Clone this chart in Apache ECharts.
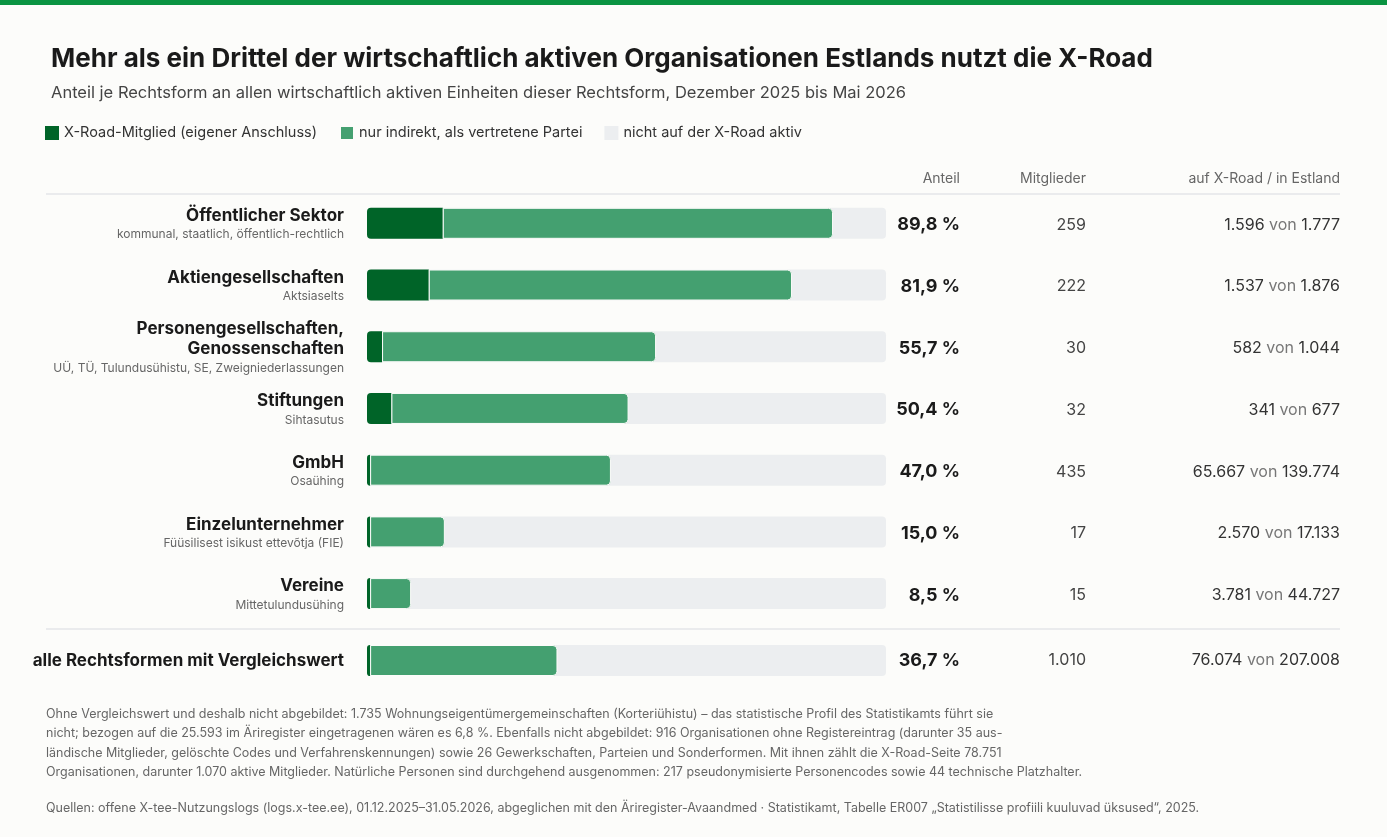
<!DOCTYPE html>
<html>
<head>
<meta charset="utf-8">
<script src="https://cdn.jsdelivr.net/npm/echarts@6/dist/echarts.min.js"></script>
<style>
  html, body { margin: 0; padding: 0; background: #fcfcfa; }
  #topbar { height: 5px; background: #0a9442; }
  #chart { width: 1387px; height: 832px; }
</style>
</head>
<body>
<div id="topbar"></div>
<div id="chart"></div>
<script>
// rows (top to bottom)
var names = ['Öffentlicher Sektor', 'Aktiengesellschaften', 'Personengesellschaften,\nGenossenschaften', 'Stiftungen', 'GmbH', 'Einzelunternehmer', 'Vereine']
var subs = ['kommunal, staatlich, öffentlich-rechtlich', 'Aktsiaselts', 'UÜ, TÜ, Tulundusühistu, SE, Zweigniederlassungen', 'Sihtasutus', 'Osaühing', 'Füüsilisest isikust ettevõtja (FIE)', 'Mittetulundusühing']
var memberShare = [14.6, 11.9, 2.9, 4.7, 0.6, 0.6, 0.6]
var totalShare = [89.8, 81.9, 55.7, 50.4, 47.0, 15.0, 8.5]
var members = ['259', '222', '30', '32', '435', '17', '15']
var onRoad = ['1.596', '1.537', '582', '341', '65.667', '2.570', '3.781']
var inEstonia = ['1.777', '1.876', '1.044', '677', '139.774', '17.133', '44.727']

var allName = 'alle Rechtsformen mit Vergleichswert'
var allMember = 0.6, allTotal = 36.7, allMembers = '1.010', allOnRoad = '76.074', allInEstonia = '207.008'

var DARK = '#006428', GREEN = '#44a070', GREY = '#eceef0'

var chart = echarts.init(document.getElementById('chart'))

function pctText(v) { return v.toFixed(1).replace('.', ',') + ' %' }

function rightAxes(gridIndex, cats, pcts, mems, roads, ests) {
    return [
        { gridIndex: gridIndex, type: 'category', data: cats, inverse: true, position: 'right',
          axisLine: { show: false }, axisTick: { show: false },
          axisLabel: { margin: 74, align: 'right', fontSize: 18, fontWeight: 'bold', color: '#1a1a1a',
            fontFamily: 'Inter', formatter: function (v, i) { return pctText(pcts[i]) } } },
        { gridIndex: gridIndex, type: 'category', data: cats, inverse: true, position: 'right',
          axisLine: { show: false }, axisTick: { show: false },
          axisLabel: { margin: 200, align: 'right', fontSize: 16, color: '#444',
            fontFamily: 'Inter', formatter: function (v, i) { return mems[i] } } },
        { gridIndex: gridIndex, type: 'category', data: cats, inverse: true, position: 'right',
          axisLine: { show: false }, axisTick: { show: false },
          axisLabel: { margin: 454, align: 'right', fontFamily: 'Inter',
            formatter: function (v, i) { return '{n|' + roads[i] + '}{v| von }{n|' + ests[i] + '}' },
            rich: { n: { fontSize: 16, color: '#333', fontFamily: 'Inter' }, v: { fontSize: 16, color: '#777', fontFamily: 'Inter' } } } }
    ]
}

var leftRich = {
    t: { fontSize: 17, fontWeight: 'bold', color: '#1a1a1a', fontFamily: 'Inter', lineHeight: 20, align: 'right' },
    s: { fontSize: 12, color: '#666', fontFamily: 'Inter', lineHeight: 18, align: 'right' },
    a: { fontSize: 17, fontWeight: 'bold', color: '#1a1a1a', fontFamily: 'Inter', align: 'right' }
}

var yAxes = [
    { gridIndex: 0, type: 'category', data: names, inverse: true,
      axisLine: { show: false }, axisTick: { show: false },
      axisLabel: { margin: 23, fontFamily: 'Inter', rich: leftRich,
        formatter: function (v, i) {
            return v.split('\n').map(function (l) { return '{t|' + l + '}' }).join('\n') + '\n{s|' + subs[i] + '}'
        } } }
].concat(rightAxes(0, names, totalShare, members, onRoad, inEstonia))
 .concat([
    { gridIndex: 1, type: 'category', data: [allName], inverse: true,
      axisLine: { show: false }, axisTick: { show: false },
      axisLabel: { margin: 23, fontFamily: 'Inter', rich: leftRich, formatter: function (v) { return '{a|' + v + '}' } } }
 ]).concat(rightAxes(1, [allName], [allTotal], [allMembers], [allOnRoad], [allInEstonia]))

var barBase = { type: 'bar', stack: 'x', barWidth: 31 }

var option = {
    backgroundColor: '#fcfcfa',
    animation: false,
    title: {
        text: 'Mehr als ein Drittel der wirtschaftlich aktiven Organisationen Estlands nutzt die X-Road',
        subtext: 'Anteil je Rechtsform an allen wirtschaftlich aktiven Einheiten dieser Rechtsform, Dezember 2025 bis Mai 2026',
        left: 46, top: 36, itemGap: 13,
        textStyle: { fontSize: 26, fontWeight: 'bold', color: '#1a1a1a', fontFamily: 'Inter' },
        subtextStyle: { fontSize: 16.5, color: '#444', fontFamily: 'Inter' }
    },
    legend: {
        left: 40, top: 115, icon: 'rect', itemWidth: 14, itemHeight: 14, itemGap: 22,
        textStyle: { fontSize: 14.5, color: '#333', fontFamily: 'Inter' },
        data: ['X-Road-Mitglied (eigener Anschluss)', 'nur indirekt, als vertretene Partei', 'nicht auf der X-Road aktiv']
    },
    grid: [
        { left: 367, right: 501, top: 189, height: 432 },
        { left: 367, right: 501, top: 625, height: 61 }
    ],
    xAxis: [
        { gridIndex: 0, type: 'value', min: 0, max: 100, show: false },
        { gridIndex: 1, type: 'value', min: 0, max: 100, show: false }
    ],
    yAxis: yAxes,
    graphic: [
        { type: 'line', shape: { x1: 46, y1: 189, x2: 1340, y2: 189 }, style: { stroke: '#e4e6e8', lineWidth: 1.5 } },
        { type: 'line', shape: { x1: 46, y1: 624, x2: 1340, y2: 624 }, style: { stroke: '#e4e6e8', lineWidth: 1.5 } },
        { type: 'text', x: 960, y: 167, style: { text: 'Anteil', align: 'right', fontSize: 14, fill: '#666', fontFamily: 'Inter' } },
        { type: 'text', x: 1086, y: 167, style: { text: 'Mitglieder', align: 'right', fontSize: 14, fill: '#666', fontFamily: 'Inter' } },
        { type: 'text', x: 1340, y: 167, style: { text: 'auf X-Road / in Estland', align: 'right', fontSize: 14, fill: '#666', fontFamily: 'Inter' } },
        { type: 'text', x: 46, y: 699, style: {
            text: 'Ohne Vergleichswert und deshalb nicht abgebildet: 1.735 Wohnungseigentümergemeinschaften (Korteriühistu) – das statistische Profil des Statistikamts führt sie\n' +
                  'nicht; bezogen auf die 25.593 im Äriregister eingetragenen wären es 6,8 %. Ebenfalls nicht abgebildet: 916 Organisationen ohne Registereintrag (darunter 35 aus-\n' +
                  'ländische Mitglieder, gelöschte Codes und Verfahrenskennungen) sowie 26 Gewerkschaften, Parteien und Sonderformen. Mit ihnen zählt die X-Road-Seite 78.751\n' +
                  'Organisationen, darunter 1.070 aktive Mitglieder. Natürliche Personen sind durchgehend ausgenommen: 217 pseudonymisierte Personencodes sowie 44 technische Platzhalter.',
            fontSize: 12.5, lineHeight: 19.5, fill: '#666', fontFamily: 'Inter' } },
        { type: 'text', x: 46, y: 797, style: {
            text: 'Quellen: offene X-tee-Nutzungslogs (logs.x-tee.ee), 01.12.2025–31.05.2026, abgeglichen mit den Äriregister-Avaandmed · Statistikamt, Tabelle ER007 „Statistilisse profiili kuuluvad üksused“, 2025.',
            fontSize: 12.5, fill: '#666', fontFamily: 'Inter' } }
    ],
    series: [
        Object.assign({}, barBase, {
            name: 'X-Road-Mitglied (eigener Anschluss)', xAxisIndex: 0, yAxisIndex: 0, data: memberShare,
            itemStyle: { color: DARK, borderRadius: [4, 0, 0, 4] },
            showBackground: true, backgroundStyle: { color: GREY, borderRadius: 4 }
        }),
        Object.assign({}, barBase, {
            name: 'nur indirekt, als vertretene Partei', xAxisIndex: 0, yAxisIndex: 0,
            data: totalShare.map(function (t, i) { return +(t - memberShare[i]).toFixed(1) }),
            itemStyle: { color: GREEN, borderRadius: [0, 4, 4, 0], borderColor: '#fcfcfa', borderWidth: 1 }
        }),
        Object.assign({}, barBase, {
            name: 'X-Road-Mitglied (eigener Anschluss)', stack: 'y', xAxisIndex: 1, yAxisIndex: 4, data: [allMember],
            itemStyle: { color: DARK, borderRadius: [4, 0, 0, 4] },
            showBackground: true, backgroundStyle: { color: GREY, borderRadius: 4 }
        }),
        Object.assign({}, barBase, {
            name: 'nur indirekt, als vertretene Partei', stack: 'y', xAxisIndex: 1, yAxisIndex: 4,
            data: [+(allTotal - allMember).toFixed(1)],
            itemStyle: { color: GREEN, borderRadius: [0, 4, 4, 0], borderColor: '#fcfcfa', borderWidth: 1 }
        }),
        { name: 'nicht auf der X-Road aktiv', type: 'bar', xAxisIndex: 0, yAxisIndex: 0, data: [], itemStyle: { color: GREY } }
    ]
}

chart.setOption(option)
</script>
</body>
</html>
